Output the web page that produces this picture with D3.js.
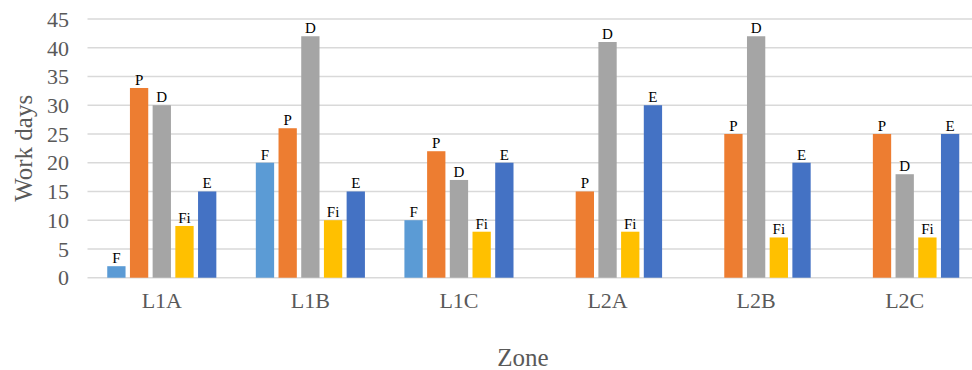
<!DOCTYPE html>
<html><head><meta charset="utf-8">
<script src="https://cdn.jsdelivr.net/npm/d3@7"></script>
<style>html,body{margin:0;padding:0;background:#fff;overflow:hidden}
svg text{font-family:"Liberation Serif","Times New Roman","DejaVu Serif",serif;}</style>
</head><body>
<svg id="chart" width="972" height="370"></svg>
<script>
const zones = ["L1A","L1B","L1C","L2A","L2B","L2C"];
const seriesNames = ["F","P","D","Fi","E"];
const seriesColors = ["#5B9BD5","#ED7D31","#A5A5A5","#FFC000","#4472C4"];
const valF  = [2, 20, 10, 0, 0, 0];
const valP  = [33, 26, 22, 15, 25, 25];
const valD  = [30, 42, 17, 41, 42, 18];
const valFi = [9, 10, 8, 8, 7, 7];
const valE  = [15, 15, 20, 30, 20, 25];
const yTicks = [0,5,10,15,20,25,30,35,40,45];
const yTitle = "Work days";
const xTitle = "Zone";

(function(){
const values = [valF, valP, valD, valFi, valE];
const svg = d3.select("#chart");
const pLeft = 87.5, pRight = 979, pTop = 19, pBottom = 277.7;

const x0 = d3.scaleBand().domain(zones).range([pLeft, pRight]).paddingInner(0).paddingOuter(0);
const y = d3.scaleLinear().domain([0,45]).range([pBottom, pTop]);
const barStep = 22.7, barW = 18.3;
const x1 = d3.scaleBand().domain(seriesNames).range([-barStep*2.5, barStep*2.5]).padding(0);

svg.append("g").selectAll("line").data(yTicks).join("line")
  .attr("x1", pLeft).attr("x2", pRight)
  .attr("y1", d=>y(d)).attr("y2", d=>y(d))
  .attr("stroke", "#d9d9d9").attr("stroke-width", 1.5);

const yAxis = d3.axisLeft(y).tickValues(yTicks).tickSize(0).tickPadding(0);
const ga = svg.append("g").attr("transform", `translate(69,0)`).call(yAxis);
ga.select(".domain").remove();
ga.attr("font-family", null);
ga.selectAll("text")
  .attr("font-size", 22).attr("fill","#595959").attr("dy","0.33em");

const xAxis = d3.axisBottom(x0).tickSize(0).tickPadding(0);
const gx = svg.append("g").attr("transform", `translate(0,${pBottom})`).call(xAxis);
gx.select(".domain").remove();
gx.attr("font-family", null);
gx.selectAll("text")
  .attr("font-size", 22).attr("fill","#595959").attr("y", 30).attr("dy", 0);

const data = [];
zones.forEach((z,i)=>seriesNames.forEach((s,j)=>data.push({z, s, v: values[j][i], c: seriesColors[j]})));
const groups = svg.append("g");
groups.selectAll("rect").data(data).join("rect")
  .attr("x", d => x0(d.z) + x0.bandwidth()/2 + x1(d.s) + (barStep-barW)/2)
  .attr("width", barW)
  .attr("y", d => y(d.v))
  .attr("height", d => y(0) - y(d.v))
  .attr("fill", d => d.c);

groups.selectAll("text").data(data.filter(d=>d.v>0)).join("text")
  .attr("x", d => x0(d.z) + x0.bandwidth()/2 + x1(d.s) + barStep/2)
  .attr("y", d => y(d.v) - 3)
  .attr("text-anchor","middle")
  .attr("font-size", 15).attr("fill","#000")
  .text(d => d.s);

svg.append("text").attr("transform", `translate(32,${(pTop+pBottom)/2}) rotate(-90)`)
  .attr("text-anchor","middle")
  .attr("font-size", 25).attr("fill","#595959").text(yTitle);
svg.append("text").attr("x", 523).attr("y", 366)
  .attr("text-anchor","middle")
  .attr("font-size", 25).attr("fill","#595959").text(xTitle);
})();
</script>
</body></html>
